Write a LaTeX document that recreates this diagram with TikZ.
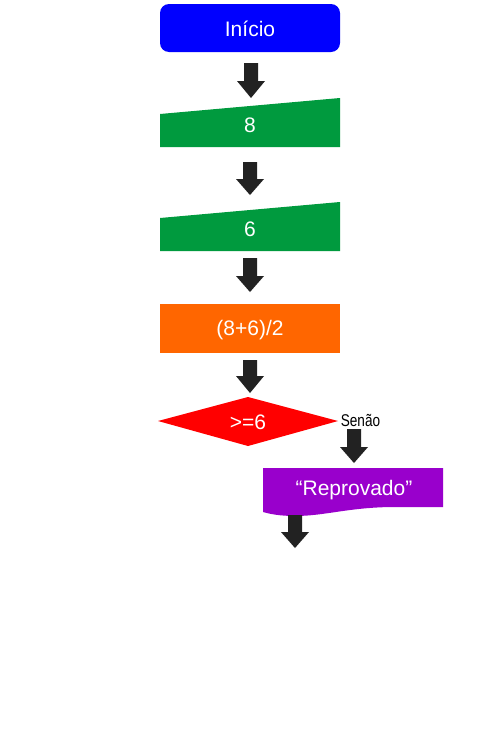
\documentclass[tikz,border=0pt]{standalone}
\usepackage{fontspec}
\setmainfont{Liberation Sans}
\definecolor{cblue}{RGB}{0,0,255}
\definecolor{cgreen}{RGB}{0,154,62}
\definecolor{corange}{RGB}{255,102,0}
\definecolor{cred}{RGB}{255,0,0}
\definecolor{cpurple}{RGB}{153,0,204}
\definecolor{carrow}{RGB}{34,34,34}
\newcommand\blockarrow[4]{%
  \fill[carrow] ({#1-7},{#2}) -- ({#1+7},{#2}) -- ({#1+7},{#3}) -- ({#1+14},{#3}) -- ({#1},{#4}) -- ({#1-14},{#3}) -- ({#1-7},{#3}) -- cycle;}
\begin{document}
\begin{tikzpicture}[x=1pt,y=-1pt,
  lbl/.style={text=white,font=\fontsize{21}{24}\selectfont,inner sep=0pt}]
\useasboundingbox[fill=white] (0,0) rectangle (500,750);
% Inicio
\fill[cblue,rounded corners=9pt] (160,4) rectangle (340,52);
\node[lbl] (inicio) at (250,28.5) {Início};
\blockarrow{251}{63}{81}{98}
% input 8
\fill[cgreen] (160,114) -- (340,98) -- (340,147) -- (160,147) -- cycle;
\node[lbl] (in8) at (250,125) {8};
\blockarrow{250}{162}{179}{195}
% input 6
\fill[cgreen] (160,218) -- (340,202) -- (340,251) -- (160,251) -- cycle;
\node[lbl] (in6) at (250,229.5) {6};
\blockarrow{250}{258}{276}{292}
% process
\fill[corange] (160,304) rectangle (340,353);
\node[lbl] (proc) at (250,330) {(8+6)/2};
\blockarrow{250}{360}{376}{393}
% decision
\fill[cred] (158,421) -- (248,397) -- (338,421) -- (248,446) -- cycle;
\node[lbl] (dec) at (248,422) {>=6};
\node[inner sep=0pt,font=\fontsize{17}{20}\selectfont] (senao) at (360.5,420) {\scalebox{0.8}[1]{Senão}};
\blockarrow{354}{429}{447}{463}
% output document
\fill[cpurple] (263,468) -- (443,468) -- (443,507) -- (395,507)
  .. controls (350,507) and (325,516) .. (295,516)
  .. controls (280,516) and (270,514) .. (263,512) -- cycle;
\node[lbl] (out) at (354,490) {“Reprovado”};
\blockarrow{295}{515}{532}{548}
\end{tikzpicture}
\end{document}
